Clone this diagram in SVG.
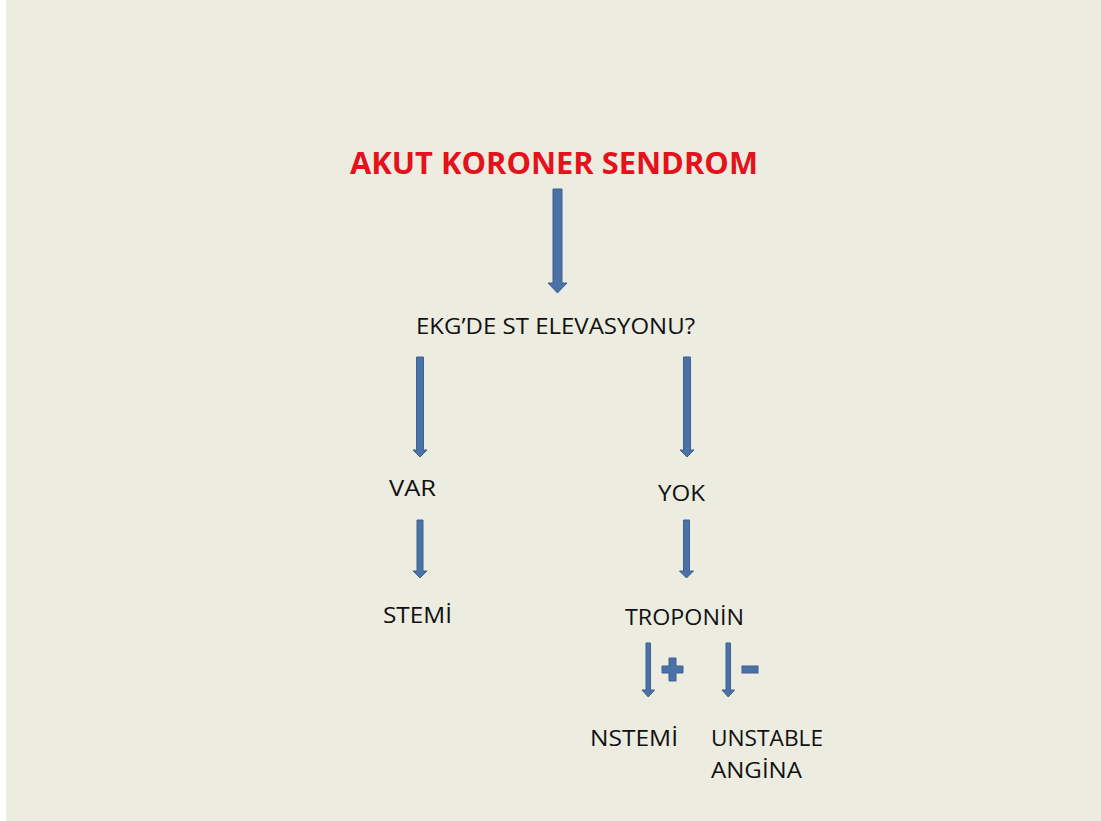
<svg xmlns="http://www.w3.org/2000/svg" width="1101" height="821" viewBox="0 0 1101 821">
<defs>
<style>
.lbl{font-family:"Open Sans","Noto Sans","Liberation Sans",sans-serif;font-size:21px;fill:#111;}
.title{font-family:"Open Sans","Noto Sans","Liberation Sans",sans-serif;font-size:31px;font-weight:bold;fill:#E3121B;}
.arr{fill:#4A72A6;stroke:#3C6192;stroke-width:1;}
</style>
</defs>
<rect x="0" y="0" width="1101" height="821" fill="#FFFFFF"/>
<rect x="6" y="0" width="1095" height="821" fill="#ECECE1"/>
<g id="title"><text class="title" x="350" y="174" textLength="408" lengthAdjust="spacingAndGlyphs">AKUT KORONER SENDROM</text></g>
<g id="ekg"><text class="lbl" x="416" y="334" textLength="279" lengthAdjust="spacingAndGlyphs">EKG’DE ST ELEVASYONU?</text></g>
<g id="var"><text class="lbl" x="389" y="496" textLength="47" lengthAdjust="spacingAndGlyphs">VAR</text></g>
<g id="yok"><text class="lbl" x="658" y="501" textLength="47" lengthAdjust="spacingAndGlyphs">YOK</text></g>
<g id="stemi"><text class="lbl" x="383" y="623" textLength="69" lengthAdjust="spacingAndGlyphs">STEMİ</text></g>
<g id="troponin"><text class="lbl" x="625" y="625" textLength="119" lengthAdjust="spacingAndGlyphs">TROPONİN</text></g>
<g id="nstemi"><text class="lbl" x="590" y="746" textLength="88" lengthAdjust="spacingAndGlyphs">NSTEMİ</text></g>
<g id="unstable"><text class="lbl" x="711" y="746" textLength="112" lengthAdjust="spacingAndGlyphs">UNSTABLE</text><text class="lbl" x="711" y="778" textLength="91" lengthAdjust="spacingAndGlyphs">ANGİNA</text></g>
<g id="connectors">
<path class="arr" d="M553,189 H562 V283 H567 L557.5,293 L548,283 H553 Z"/>
<path class="arr" d="M416.5,357 H423.5 V450 H427 L420,457 L413,450 H416.5 Z"/>
<path class="arr" d="M683.5,357 H690.5 V450 H694 L687,457 L680,450 H683.5 Z"/>
<path class="arr" d="M417,520 H423 V571 H427 L420,578 L413,571 H417 Z"/>
<path class="arr" d="M683.5,520 H689.5 V571 H693.5 L686.5,578 L679.5,571 H683.5 Z"/>
<path class="arr" d="M646,643 H650.5 V690 H654.5 L648.3,697 L642,690 H646 Z"/>
<path class="arr" d="M726,643 H730.5 V690 H734.5 L728.3,697 L722,690 H726 Z"/>
<path class="arr" d="M669,658 H676 V666 H683 V673 H676 V681 H669 V673 H662 V666 H669 Z"/>
<rect class="arr" x="742" y="666" width="16" height="7"/>
</g>
</svg>
